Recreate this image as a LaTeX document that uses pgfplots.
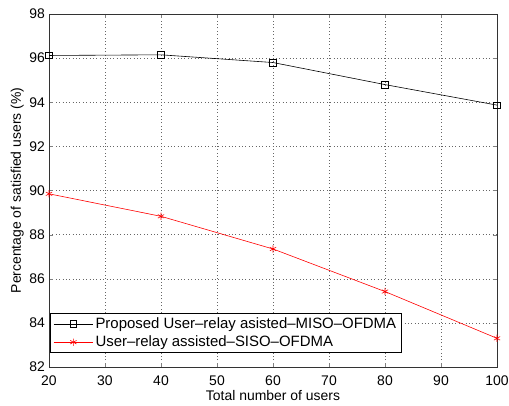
\documentclass[border=0pt]{standalone}
\usepackage{pgfplots}
\pgfplotsset{compat=1.18}
\usepackage{fontspec}
\setmainfont{Liberation Sans}
\begin{document}
\begin{tikzpicture}
\begin{axis}[
  name=ax,
  width=448bp, height=353bp, scale only axis,
  xmin=20, xmax=100, ymin=82, ymax=98,
  xtick={20,30,...,100}, ytick={82,84,...,98},
  grid=major, grid style={dash pattern=on 0.8pt off 2.6pt, gray!80!black, line width=0.5pt},
  tick align=inside, tick pos=both,
  axis line style={gray!40!black, line width=0.8pt},
  major tick length=4pt,
  xlabel={Total number of users}, ylabel={Percentage of satisfied users (\%)},
  /pgf/number format/assume math mode=true,
  tick label style={font=\fontsize{14}{16}\selectfont},
  xticklabel style={inner sep=0pt, yshift=-9pt},
  yticklabel style={inner sep=0pt, xshift=-4pt},
  label style={font=\fontsize{14}{16}\selectfont},
  xlabel style={at={([yshift=-23pt]axis description cs:0.5,0)}, anchor=north, inner sep=0pt},
  ylabel style={at={([xshift=-25pt]axis description cs:0,0.5)}, anchor=south, inner sep=0pt},
  legend style={at={(0.002,0.0405)}, anchor=south west, font=\fontsize{15}{17}\selectfont, draw=black, line width=0.7pt, cells={anchor=west}, row sep=2pt, inner xsep=3pt, inner ysep=2pt},
  legend cell align=left,
  legend image code/.code={\draw[mark repeat=2,mark phase=2,#1] plot coordinates {(0cm,0cm) (0.7cm,0cm) (1.4cm,0cm)};},
]
\addplot[black, mark=square, mark size=3.3pt, line width=0.6pt] coordinates {(20,96.12) (40,96.15) (60,95.8) (80,94.8) (100,93.87)};
\addlegendentry{Proposed User--relay asisted--MISO--OFDMA}
\addplot[red, mark=asterisk, mark size=3.6pt, line width=0.6pt] coordinates {(20,89.85) (40,88.83) (60,87.35) (80,85.42) (100,83.3)};
\addlegendentry{User--relay assisted--SISO--OFDMA}
\end{axis}
\path ([xshift=-49bp,yshift=-38bp]ax.south west) rectangle ([xshift=12bp,yshift=14bp]ax.north east);
\end{tikzpicture}
\end{document}
